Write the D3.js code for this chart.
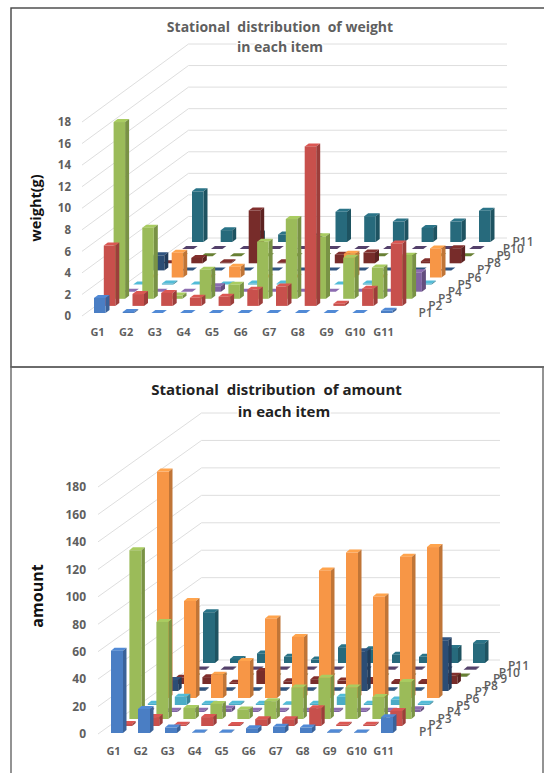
<!DOCTYPE html>
<html>
<head>
<meta charset="utf-8">
<script src="https://cdnjs.cloudflare.com/ajax/libs/d3/7.8.5/d3.min.js"></script>
<style>
  html, body { margin: 0; padding: 0; background: #fff; }
  svg { display: block; }
  text { font-family: "Open Sans", "Noto Sans", sans-serif; }
</style>
</head>
<body>
<svg id="chart" width="544" height="773"></svg>
<script>
var groups = ['G1', 'G2', 'G3', 'G4', 'G5', 'G6', 'G7', 'G8', 'G9', 'G10', 'G11'];
var periods = ['P1', 'P2', 'P3', 'P4', 'P5', 'P6', 'P7', 'P8', 'P9', 'P10', 'P11'];
var seriesColors = ['#4a7ec4', '#c8504c', '#9bbb59', '#8064a2', '#4bacc6', '#f79646',
  '#2c4d75', '#772c2a', '#5f7530', '#4d3b62', '#276a7c'];

var weightTicks = [0, 2, 4, 6, 8, 10, 12, 14, 16, 18];
var amountTicks = [0, 20, 40, 60, 80, 100, 120, 140, 160, 180];

// weight(g), one list per period, G1..G11
var weightP1 = [1.4, 0.1, 0, 0, 0, 0, 0, 0, 0, 0, 0.2];
var weightP2 = [5.6, 1.1, 1.2, 0.75, 0.85, 1.5, 1.8, 14.8, 0.2, 1.6, 5.8];
var weightP3 = [16.4, 6.6, 0.3, 2.7, 1.3, 5.3, 7.4, 5.8, 3.8, 2.9, 4.0];
var weightP4 = [0, 0, 0, 0.5, 0, 0, 0, 0, 0, 0, 1.8];
var weightP5 = [0, 0.1, 0, 0, 0.1, 0.1, 0.1, 0, 0.1, 0.1, 0.1];
var weightP6 = [0, 2.3, 0, 1.0, 0, 0, 0, 2.2, 0, 0, 2.7];
var weightP7 = [1.4, 0, 0, 0, 0, 0, 0, 0, 0, 0, 0];
var weightP8 = [0, 0.5, 0.1, 4.9, 0.1, 0, 0.8, 1.0, 0, 0.2, 1.4];
var weightP9 = [0, 0, 0, 0, 0, 0, 0, 0, 0, 0, 0];
var weightP10 = [0, 0, 0, 0, 0, 0, 0, 0, 0, 0, 0];
var weightP11 = [4.7, 1.1, 0.8, 0.7, 0.5, 2.8, 2.4, 1.9, 1.3, 1.9, 2.9];

// amount, same layout
var amountP1 = [60, 17.5, 4, 0.3, 0.3, 3.5, 4.5, 4, 0.5, 0.4, 11.5];
var amountP2 = [1.5, 6.5, 1, 6.5, 0.8, 5, 5, 13, 1, 1, 11];
var amountP3 = [123, 70.7, 8, 11, 7, 13, 23, 30, 23, 16, 27];
var amountP4 = [1, 1, 1, 2.5, 1, 1, 1, 1, 1, 1, 2];
var amountP5 = [1, 6, 1, 1, 1, 0.5, 1, 6, 1, 4, 1];
var amountP6 = [165, 70.7, 17, 27, 58, 44.5, 93, 106, 74, 103, 110];
var amountP7 = [8, 0.5, 0.5, 0.5, 0.5, 0.5, 0.5, 29, 0.5, 0.5, 37];
var amountP8 = [4.5, 5, 1, 9.5, 2, 3.5, 2.5, 3, 1.5, 1.5, 6];
var amountP9 = [0.3, 0.3, 0.3, 0.3, 0.3, 0.3, 0.3, 0.3, 0.3, 0.3, 0.3];
var amountP10 = [0.3, 0.3, 0.3, 0.3, 0.3, 0.3, 0.3, 0.3, 0.3, 0.3, 0.3];
var amountP11 = [37, 3, 7, 4.5, 2.5, 11.5, 10, 6, 4.5, 11, 14.5];

var svg = d3.select('#chart');
var textGray = '#5f5f5f';

// panel borders
svg.append('rect').attr('x', 11).attr('y', 8).attr('width', 540).attr('height', 359)
  .attr('fill', 'none').attr('stroke', '#444').attr('stroke-width', 1.4);
svg.append('rect').attr('x', 11).attr('y', 367).attr('width', 532).attr('height', 420)
  .attr('fill', 'none').attr('stroke', '#666').attr('stroke-width', 1.4);

function drawChart(opts) {
  var g = svg.append('g');

  // the floor is sheared: a period moves a bar right and up, a group moves it right
  var xGroup = d3.scalePoint().domain(groups)
    .range([opts.barLeft, opts.barLeft + opts.groupStep * (groups.length - 1)]);
  var depth = d3.scalePoint().domain(periods).range([0, 1]);
  var height = d3.scaleLinear().domain([0, opts.yMax]).range([0, opts.yPixels]);

  function barX(group, period) { return xGroup(group) + depth(period) * opts.depthX; }
  function barY(period) { return opts.barBase - depth(period) * opts.depthY; }

  // wall and side gridlines
  var wall = g.append('g');
  wall.selectAll('path').data(opts.ticks).enter().append('path')
    .attr('fill', 'none').attr('stroke', '#dedede').attr('stroke-width', 1)
    .attr('d', function (t) {
      var h = height(t);
      return 'M' + opts.gridLeft + ',' + (opts.gridFront - h) +
        'L' + opts.gridBack + ',' + (opts.gridBackY - h) +
        'L' + opts.gridRight + ',' + (opts.gridBackY - h);
    });

  // back rows first so the front rows cover them
  var rows = periods.map(function (p, j) { return { period: p, color: seriesColors[j], values: opts.series[j] }; }).reverse();
  var row = g.selectAll('g.row').data(rows).enter().append('g').attr('class', 'row');
  var bars = row.selectAll('g.bar')
    .data(function (r) {
      return r.values.map(function (v, i) {
        return { group: groups[i], period: r.period, value: v, color: r.color };
      });
    })
    .enter().append('g').attr('class', 'bar');

  var w = opts.barWidth, sx = opts.sideX, sy = opts.sideY;
  bars.append('path') // top
    .attr('fill', function (d) { return d3.color(d.color).brighter(0.25); })
    .attr('d', function (d) {
      var x = barX(d.group, d.period), y = barY(d.period) - height(d.value);
      return 'M' + x + ',' + y + 'l' + w + ',0l' + sx + ',' + (-sy) + 'l' + (-w) + ',0Z';
    });
  bars.append('path') // side
    .attr('fill', function (d) { return d3.color(d.color).darker(0.7); })
    .attr('d', function (d) {
      var x = barX(d.group, d.period) + w, y = barY(d.period), h = height(d.value);
      return 'M' + x + ',' + y + 'l' + sx + ',' + (-sy) + 'l0,' + (-h) + 'l' + (-sx) + ',' + sy + 'Z';
    });
  bars.append('rect') // front
    .attr('fill', function (d) { return d.color; })
    .attr('x', function (d) { return barX(d.group, d.period); })
    .attr('y', function (d) { return barY(d.period) - height(d.value); })
    .attr('width', w)
    .attr('height', function (d) { return height(d.value); });

  // value axis
  var yAxisScale = d3.scaleLinear().domain([0, opts.yMax]).range([opts.gridFront, opts.gridFront - opts.yPixels]);
  var yAxis = g.append('g').attr('transform', 'translate(' + opts.labelRight + ',0)')
    .call(d3.axisLeft(yAxisScale).tickValues(opts.ticks).tickSize(0).tickPadding(0));
  yAxis.select('.domain').remove();
  yAxis.selectAll('text').attr('fill', textGray)
    .style('font-family', '"Open Sans", sans-serif')
    .style('font-size', opts.tickSize + 'px').style('font-weight', 700);

  // group axis
  var xAxis = g.append('g').attr('transform', 'translate(0,' + opts.groupLabelY + ')')
    .call(d3.axisBottom(d3.scalePoint().domain(groups)
      .range([opts.groupLabelLeft, opts.groupLabelLeft + opts.groupLabelStep * (groups.length - 1)]))
      .tickSize(0).tickPadding(0));
  xAxis.select('.domain').remove();
  xAxis.selectAll('text').attr('fill', textGray)
    .style('font-family', '"Open Sans", sans-serif')
    .style('font-size', '11px').style('font-weight', 700);

  // period labels along the right floor edge
  g.selectAll('text.period').data(periods).enter().append('text')
    .attr('class', 'period')
    .attr('text-anchor', 'middle')
    .attr('x', function (p) { return opts.periodLeft + depth(p) * opts.periodDX; })
    .attr('y', function (p) { return opts.periodBase - depth(p) * opts.periodDY; })
    .attr('fill', textGray).style('font-size', '12px').style('font-weight', 600)
    .text(function (p) { return p; });

  // titles, the halo breaks the top gridline like in the scan
  g.selectAll('text.title').data(opts.title).enter().append('text')
    .attr('class', 'title')
    .attr('x', function (d, i) { return opts.titleX[i]; })
    .attr('y', function (d, i) { return opts.titleY + i * opts.titleGap; })
    .attr('text-anchor', 'middle').attr('fill', opts.titleColor)
    .attr('stroke', '#fff').attr('stroke-width', 3).style('paint-order', 'stroke')
    .style('font-size', opts.titleSize + 'px').style('font-weight', 700)
    .style('white-space', 'pre')
    .text(function (d) { return d; });

  g.append('text')
    .attr('transform', 'translate(' + opts.yTitleX + ',' + opts.yTitleY + ') rotate(-90)')
    .attr('text-anchor', 'middle').attr('fill', '#111')
    .style('font-size', opts.yTitleSize + 'px').style('font-weight', 700)
    .text(opts.yTitle);
}

drawChart({
  series: [weightP1, weightP2, weightP3, weightP4, weightP5, weightP6, weightP7, weightP8, weightP9, weightP10, weightP11],
  ticks: weightTicks, yMax: 18, yPixels: 194,
  barLeft: 94, groupStep: 28.7, barBase: 313, depthX: 98, depthY: 71,
  barWidth: 11.5, sideX: 4, sideY: 3,
  gridLeft: 82, gridFront: 316, gridBack: 188.5, gridBackY: 238, gridRight: 507,
  labelRight: 71, tickSize: 11.5,
  groupLabelLeft: 97, groupLabelStep: 28.6, groupLabelY: 328,
  periodLeft: 425.5, periodBase: 317, periodDX: 97.5, periodDY: 71,
  title: ['Stational  distribution  of weight', 'in each item'],
  titleX: [280, 280], titleY: 32, titleGap: 20, titleSize: 14, titleColor: textGray,
  yTitle: 'weight(g)', yTitleX: 41, yTitleY: 208, yTitleSize: 14.5
});

drawChart({
  series: [amountP1, amountP2, amountP3, amountP4, amountP5, amountP6, amountP7, amountP8, amountP9, amountP10, amountP11],
  ticks: amountTicks, yMax: 180, yPixels: 247,
  barLeft: 111, groupStep: 27, barBase: 733, depthX: 92, depthY: 70,
  barWidth: 12, sideX: 3.5, sideY: 3,
  gridLeft: 98, gridFront: 734, gridBack: 201.5, gridBackY: 660, gridRight: 500,
  labelRight: 86, tickSize: 12,
  groupLabelLeft: 113, groupLabelStep: 27, groupLabelY: 747,
  periodLeft: 426, periodBase: 736, periodDX: 92.5, periodDY: 66,
  title: ['Stational  distribution  of amount', 'in each item'],
  titleX: [276.5, 284], titleY: 395, titleGap: 22, titleSize: 15, titleColor: '#222',
  yTitle: 'amount', yTitleX: 43, yTitleY: 596, yTitleSize: 16
});
</script>
</body>
</html>
